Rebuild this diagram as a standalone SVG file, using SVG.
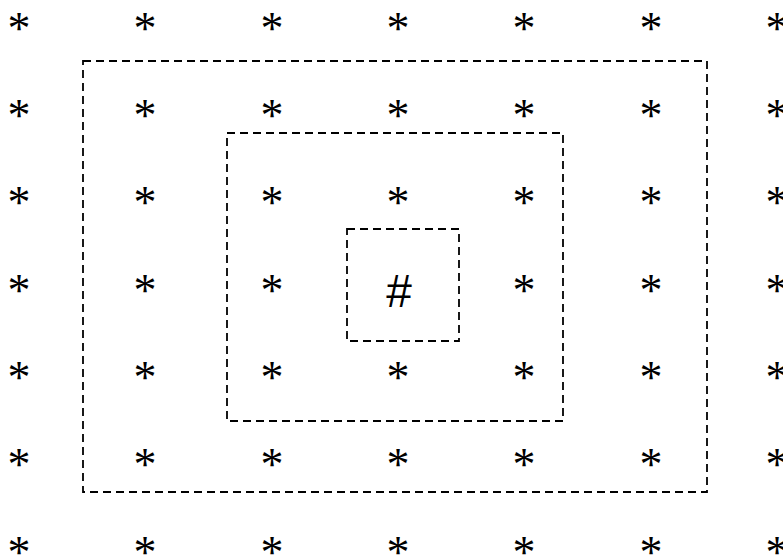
<svg xmlns="http://www.w3.org/2000/svg" width="783" height="558" viewBox="0 0 783 558">
<style>
.s{font-family:"Liberation Serif","Times New Roman",serif;font-size:46px;text-anchor:middle;fill:#000}
.h{font-family:"Liberation Sans",Arial,sans-serif;font-size:46px;text-anchor:middle;fill:#000}
.b{fill:none;stroke:#000;stroke-width:1.8;stroke-dasharray:8 5}
</style>
<rect width="783" height="558" fill="#fff"/>
<g id="boxes">
<rect id="outer" class="b" x="83" y="61" width="624" height="431"/>
<rect id="middle" class="b" x="227" y="133" width="336" height="288"/>
<rect id="inner" class="b" x="347" y="229" width="112" height="112"/>
</g>
<g id="grid">
<g id="r1"><text class="s" x="19" y="44">*</text><text class="s" x="145" y="44">*</text><text class="s" x="272" y="44">*</text><text class="s" x="398" y="44">*</text><text class="s" x="524" y="44">*</text><text class="s" x="651" y="44">*</text><text class="s" x="777" y="44">*</text></g>
<g id="r2"><text class="s" x="19" y="131">*</text><text class="s" x="145" y="131">*</text><text class="s" x="272" y="131">*</text><text class="s" x="398" y="131">*</text><text class="s" x="524" y="131">*</text><text class="s" x="651" y="131">*</text><text class="s" x="777" y="131">*</text></g>
<g id="r3"><text class="s" x="19" y="218">*</text><text class="s" x="145" y="218">*</text><text class="s" x="272" y="218">*</text><text class="s" x="398" y="218">*</text><text class="s" x="524" y="218">*</text><text class="s" x="651" y="218">*</text><text class="s" x="777" y="218">*</text></g>
<g id="r4"><text class="s" x="19" y="306">*</text><text class="s" x="145" y="306">*</text><text class="s" x="272" y="306">*</text><text class="h" x="399" y="307">#</text><text class="s" x="524" y="306">*</text><text class="s" x="651" y="306">*</text><text class="s" x="777" y="306">*</text></g>
<g id="r5"><text class="s" x="19" y="393">*</text><text class="s" x="145" y="393">*</text><text class="s" x="272" y="393">*</text><text class="s" x="398" y="393">*</text><text class="s" x="524" y="393">*</text><text class="s" x="651" y="393">*</text><text class="s" x="777" y="393">*</text></g>
<g id="r6"><text class="s" x="19" y="480">*</text><text class="s" x="145" y="480">*</text><text class="s" x="272" y="480">*</text><text class="s" x="398" y="480">*</text><text class="s" x="524" y="480">*</text><text class="s" x="651" y="480">*</text><text class="s" x="777" y="480">*</text></g>
<g id="r7"><text class="s" x="19" y="568">*</text><text class="s" x="145" y="568">*</text><text class="s" x="272" y="568">*</text><text class="s" x="398" y="568">*</text><text class="s" x="524" y="568">*</text><text class="s" x="651" y="568">*</text><text class="s" x="777" y="568">*</text></g>
</g>
</svg>
